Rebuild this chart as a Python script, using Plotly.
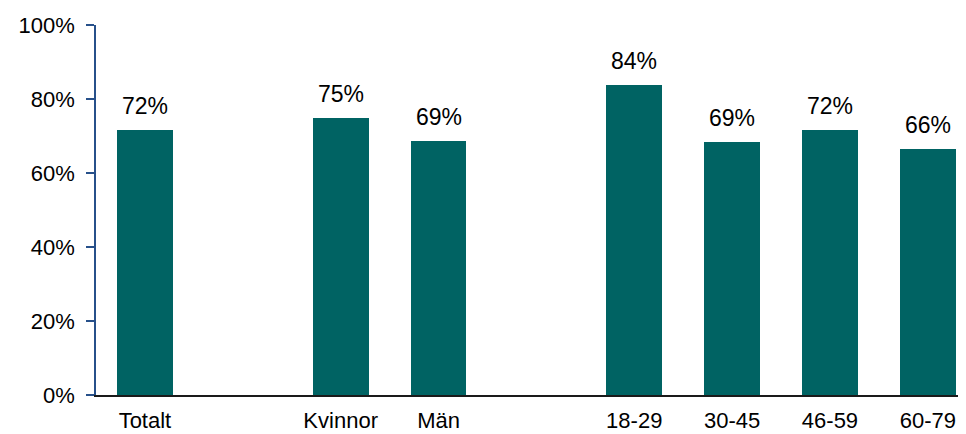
import plotly.graph_objects as go

# Data
group_total = ["Totalt"]
group_gender = ["Kvinnor", "Män"]
group_age = ["18-29", "30-45", "46-59", "60-79"]
values_total = [71.6]
values_gender = [74.9, 68.6]
values_age = [83.8, 68.4, 71.6, 66.4]
labels_total = ["72%"]
labels_gender = ["75%", "69%"]
labels_age = ["84%", "69%", "72%", "66%"]
y_ticks = [0, 20, 40, 60, 80, 100]
y_tick_labels = ["0%", "20%", "40%", "60%", "80%", "100%"]

groups = [
    (group_total, values_total, labels_total),
    (group_gender, values_gender, labels_gender),
    (group_age, values_age, labels_age),
]

cats, vals, labs, xpos = [], [], [], []
pos = 0
for names, v, l in groups:
    for n, vv, ll in zip(names, v, l):
        cats.append(n)
        vals.append(vv)
        labs.append(ll)
        xpos.append(pos)
        pos += 1
    pos += 1  # empty slot between groups

BAR = "#006363"
FONT = "Liberation Sans, Arial, sans-serif"

fig = go.Figure()
fig.add_trace(go.Bar(
    x=xpos, y=vals, width=0.57,
    marker=dict(color=BAR, line=dict(width=0)),
    hoverinfo="skip",
))

for x, y, t in zip(xpos, vals, labs):
    fig.add_annotation(
        x=x, y=y, text=t, showarrow=False,
        yanchor="bottom", yshift=9,
        font=dict(family=FONT, size=23, color="#000000"),
    )

# page body has an 8px margin, so the figure is 8px smaller and margins shifted
fig.update_layout(
    width=958, height=426,
    margin=dict(l=88, r=0, t=17, b=39),
    paper_bgcolor="white", plot_bgcolor="white",
    showlegend=False,
    font=dict(family=FONT, color="#000000"),
    bargap=0,
)
fig.update_xaxes(
    range=[-0.5, 8.39],
    tickmode="array", tickvals=xpos, ticktext=cats,
    tickfont=dict(family=FONT, size=22, color="#000000"),
    showline=True, linecolor="#1a1a1a", linewidth=1.5,
    ticks="", showgrid=False, zeroline=False,
    ticklabelstandoff=5, automargin=False,
)
fig.update_yaxes(
    range=[0, 100],
    tickmode="array", tickvals=y_ticks, ticktext=y_tick_labels,
    tickfont=dict(family=FONT, size=22, color="#000000"),
    showline=True, linecolor="#27508a", linewidth=1.5,
    ticks="outside", ticklen=8, tickcolor="#27508a", tickwidth=1.5,
    showgrid=False, zeroline=False,
    ticklabelstandoff=7, automargin=False,
)

fig.write_html("out.html")
